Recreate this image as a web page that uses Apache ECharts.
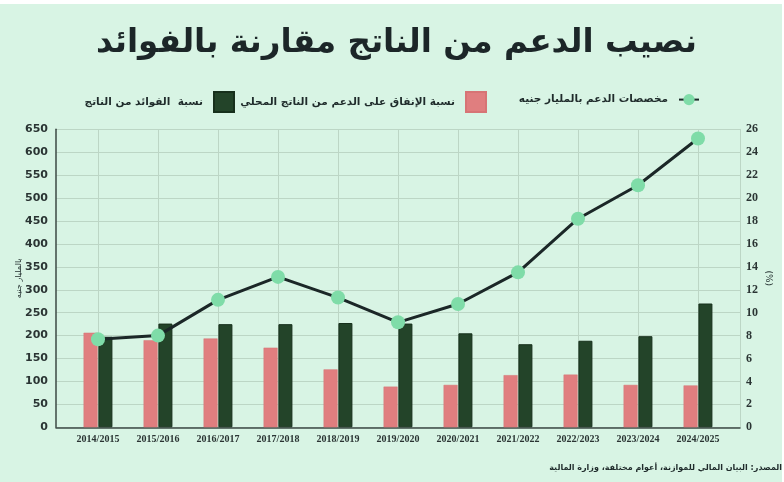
<!DOCTYPE html>
<html>
<head>
<meta charset="utf-8">
<script src="https://cdn.jsdelivr.net/npm/echarts@6/dist/echarts.min.js"></script>
<style>
  html, body { margin: 0; padding: 0; background: #ffffff; }
  #chart { position: absolute; left: 0; top: 4px; width: 782px; height: 478px; }
</style>
</head>
<body>
<div id="chart"></div>
<script>
// السنوات المالية
const years = ['2014/2015', '2015/2016', '2016/2017', '2017/2018', '2018/2019', '2019/2020',
  '2020/2021', '2021/2022', '2022/2023', '2023/2024', '2024/2025'];
// مخصصات الدعم بالمليار جنيه
const subsidyBn = [192, 200, 278, 328, 283, 229, 269, 338, 455, 528, 630];
// نسبة الإنفاق على الدعم من الناتج المحلي (%)
const subsidyPct = [8.25, 7.6, 7.75, 6.95, 5.05, 3.55, 3.7, 4.55, 4.6, 3.7, 3.65];
// نسبة الفوائد من الناتج (%)
const interestPct = [7.9, 9.05, 9.0, 9.0, 9.1, 9.05, 8.2, 7.25, 7.55, 7.95, 10.8];

const leftMax = 650, leftStep = 50;
const rightMax = 26, rightStep = 2;

const FONT = 'DejaVu Sans';
const textColor = '#1f2b2b';
const gridColor = '#bcd6c5';

const lineName = 'مخصصات الدعم بالمليار جنيه';
const pinkName = 'نسبة الإنفاق على الدعم من الناتج المحلي';
const darkName = 'نسبة  الفوائد من الناتج';

// كل عنصر وسيلة إيضاح في مكانه
function legendAt(right, item, h) {
  return {
    right: right,
    top: 82 + (20 - h) / 2,
    align: 'right',
    itemWidth: 20,
    itemHeight: h,
    itemGap: 0,
    textStyle: { fontFamily: FONT, fontSize: 10.5, fontWeight: 'bold', color: textColor, padding: [0, 6, 0, 0] },
    data: [item]
  };
}

const chart = echarts.init(document.getElementById('chart'));

const option = {
  backgroundColor: '#d8f4e4',
  animation: false,
  textStyle: { fontFamily: FONT },
  title: [
    {
      text: 'نصيب الدعم من الناتج مقارنة بالفوائد',
      left: 91,
      top: 18,
      textStyle: { fontFamily: FONT, fontSize: 32.5, fontWeight: 'bold', color: '#1c2628' }
    },
    {
      text: 'المصدر: البيان المالي للموازنة، أعوام مختلفة، وزارة المالية',
      right: 0,
      top: 460,
      padding: 0,
      textStyle: { fontFamily: FONT, fontSize: 8, fontWeight: 'bold', color: textColor }
    }
  ],
  legend: [
    legendAt(77, { name: lineName }, 14),
    legendAt(290, { name: pinkName, icon: 'rect' }, 20),
    legendAt(542, { name: darkName, icon: 'rect' }, 20)
  ],
  grid: [
    // الإطار الخارجي للمحاور
    { left: 56, right: 42, top: 125.3, bottom: 54.7 },
    // منطقة الفئات
    { left: 98, right: 84, top: 125.3, bottom: 54.7 }
  ],
  xAxis: [
    {
      type: 'value', gridIndex: 0, min: 0, max: 1,
      axisLine: { show: true, lineStyle: { color: '#3d4a45', width: 1.5 } },
      axisTick: { show: false }, axisLabel: { show: false }, splitLine: { show: false }
    },
    {
      type: 'category', gridIndex: 1, data: years, boundaryGap: false,
      axisLine: { show: false }, axisTick: { show: false },
      axisLabel: { interval: 0, margin: 7, fontFamily: 'Liberation Serif', fontSize: 10, fontWeight: 'bold', color: '#2a3433' },
      splitLine: { show: true, lineStyle: { color: gridColor, width: 1 } }
    }
  ],
  yAxis: [
    {
      type: 'value', gridIndex: 0, position: 'left', min: 0, max: leftMax, interval: leftStep,
      name: 'بالمليار جنيه', nameLocation: 'middle', nameRotate: 90, nameGap: 33,
      nameMoveOverlap: false,
      nameTextStyle: { fontFamily: FONT, fontSize: 8, color: textColor },
      axisLine: { show: true, lineStyle: { color: '#3d4a45', width: 1.5 } },
      axisTick: { show: false },
      axisLabel: { margin: 8, fontFamily: FONT, fontSize: 11, fontWeight: 'bold', color: '#2a3433' },
      splitLine: { show: true, lineStyle: { color: gridColor, width: 1 } }
    },
    {
      type: 'value', gridIndex: 0, position: 'right', min: 0, max: rightMax, interval: rightStep,
      name: '(%)', nameLocation: 'middle', nameRotate: -90, nameGap: 24,
      nameMoveOverlap: false,
      nameTextStyle: { fontFamily: FONT, fontSize: 9, color: textColor },
      axisLine: { show: true, lineStyle: { color: gridColor, width: 1 } },
      axisTick: { show: false },
      axisLabel: { margin: 6, fontFamily: 'Liberation Serif', fontSize: 12, fontWeight: 'bold', color: '#2a3433' },
      splitLine: { show: false }
    },
    { type: 'value', gridIndex: 1, min: 0, max: leftMax, show: false },
    { type: 'value', gridIndex: 1, min: 0, max: rightMax, show: false }
  ],
  series: [
    {
      name: pinkName, type: 'bar', xAxisIndex: 1, yAxisIndex: 3,
      data: subsidyPct, barWidth: 14, barGap: '6%',
      itemStyle: { color: '#e07e7f', borderColor: '#d77475', borderWidth: 0.5 }
    },
    {
      name: darkName, type: 'bar', xAxisIndex: 1, yAxisIndex: 3,
      data: interestPct, barWidth: 14,
      itemStyle: { color: '#234429', borderColor: '#17301c', borderWidth: 1 }
    },
    {
      name: lineName, type: 'line', xAxisIndex: 1, yAxisIndex: 2,
      data: subsidyBn, z: 5,
      symbol: 'circle', symbolSize: 14,
      lineStyle: { color: '#1b2727', width: 3 },
      itemStyle: { color: '#7fdca8', borderWidth: 0 }
    }
  ]
};

chart.setOption(option);
</script>
</body>
</html>
